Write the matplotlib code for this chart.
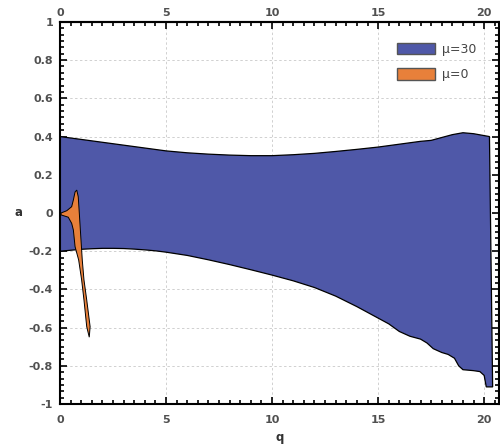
import matplotlib.pyplot as plt
from matplotlib.ticker import MultipleLocator
from matplotlib.patches import Patch

# mu=30 region: upper and lower boundary
q_up = [0, 1, 2, 3, 4, 5, 6, 7, 8, 9, 10, 11, 12, 13, 14, 15, 16, 17, 17.5,
        18, 18.5, 19, 19.5, 20, 20.25, 20.4]
a_up = [0.40, 0.385, 0.37, 0.355, 0.34, 0.325, 0.315, 0.308, 0.303, 0.30,
        0.30, 0.305, 0.312, 0.322, 0.333, 0.345, 0.36, 0.375, 0.38, 0.395,
        0.41, 0.42, 0.415, 0.405, 0.40, -0.91]
q_lo = [0, 0.5, 1, 1.5, 2, 2.5, 3, 3.5, 4, 4.5, 5, 6, 7, 8, 9, 10, 11, 12,
        13, 14, 15, 15.5, 16, 16.5, 17, 17.3, 17.6, 18, 18.3, 18.6, 18.8, 19,
        19.5, 19.8, 20, 20.1]
a_lo = [-0.20, -0.195, -0.19, -0.187, -0.185, -0.185, -0.186, -0.189,
        -0.193, -0.198, -0.205, -0.222, -0.245, -0.27, -0.297, -0.325,
        -0.355, -0.39, -0.435, -0.49, -0.55, -0.58, -0.62, -0.645, -0.66,
        -0.68, -0.71, -0.73, -0.74, -0.76, -0.80, -0.82, -0.825, -0.83,
        -0.85, -0.91]

# mu=0 region outline
q_or = [0.05, 0.32, 0.55, 0.63, 0.71, 0.79, 0.86, 0.91, 0.98, 1.05, 1.13,
        1.26, 1.42, 1.38, 1.26, 1.13, 1.02, 0.88, 0.71, 0.63, 0.55, 0.39, 0.05]
a_or = [0.0, 0.012, 0.033, 0.068, 0.11, 0.12, 0.085, 0.0, -0.124, -0.246,
        -0.35, -0.455, -0.595, -0.65, -0.595, -0.455, -0.35, -0.246, -0.176,
        -0.089, -0.054, -0.022, -0.01]

q_ticks = [0, 5, 10, 15, 20]
a_ticks = [-1, -0.8, -0.6, -0.4, -0.2, 0, 0.2, 0.4, 0.6, 0.8, 1]
a_labels = ['-1', '-0.8', '-0.6', '-0.4', '-0.2', '0', '0.2', '0.4', '0.6',
            '0.8', '1']

blue = '#4F58A8'
orange = '#E8803A'

fig = plt.figure(figsize=(5.0, 4.47), dpi=100)
ax = fig.add_axes([0.12, 0.096, 0.878, 0.855])

ax.fill(q_up + q_lo[::-1], a_up + a_lo[::-1], facecolor=blue,
        edgecolor='black', linewidth=0.9, zorder=2)
ax.fill(q_or, a_or, facecolor=orange, edgecolor='black', linewidth=0.7, zorder=3)

ax.set_xlim(0, 20.7)
ax.set_ylim(-1, 1)
ax.set_xticks(q_ticks)
ax.xaxis.set_minor_locator(MultipleLocator(0.5))
ax.set_yticks(a_ticks)
ax.set_yticklabels(a_labels)
ax.yaxis.set_minor_locator(MultipleLocator(0.2 / 6))

ax.tick_params(which='both', direction='in', top=True, right=True,
               colors='black', labelcolor='#505050', labelsize=8, width=1.2)
ax.tick_params(which='major', length=5)
ax.tick_params(which='minor', length=3)
ax.tick_params(axis='x', which='major', pad=8)
ax.tick_params(axis='y', which='major', pad=5)
for lab in ax.get_xticklabels() + ax.get_yticklabels():
    lab.set_fontweight('bold')

# tick labels along the top
sec = ax.secondary_xaxis('top')
sec.set_xticks(q_ticks)
sec.tick_params(length=0, pad=3, labelsize=8, labelcolor='#505050')
for lab in sec.get_xticklabels():
    lab.set_fontweight('bold')

for s in ax.spines.values():
    s.set_linewidth(1.5)
sec.spines['top'].set_linewidth(1.5)

ax.grid(True, which='major', linestyle=(0, (2.5, 2.5)), color='#d0d0d0',
        linewidth=0.7, zorder=0)
ax.set_axisbelow(True)

ax.set_xlabel('q', fontsize=8.5, fontweight='bold', color='#333333', labelpad=4)
ax.set_ylabel('a', fontsize=8.5, fontweight='bold', color='#333333',
              rotation=0, labelpad=7, va='center')

handles = [Patch(facecolor=blue, edgecolor='#555555', label='μ=30'),
           Patch(facecolor=orange, edgecolor='#555555', label='μ=0')]
leg = ax.legend(handles=handles, loc='upper right', bbox_to_anchor=(0.975, 0.975),
                frameon=False, fontsize=9, handlelength=3.0, handleheight=1.0,
                labelspacing=1.0, handletextpad=0.6)
for t in leg.get_texts():
    t.set_color('#444444')

fig.savefig('out.png', dpi=100)
